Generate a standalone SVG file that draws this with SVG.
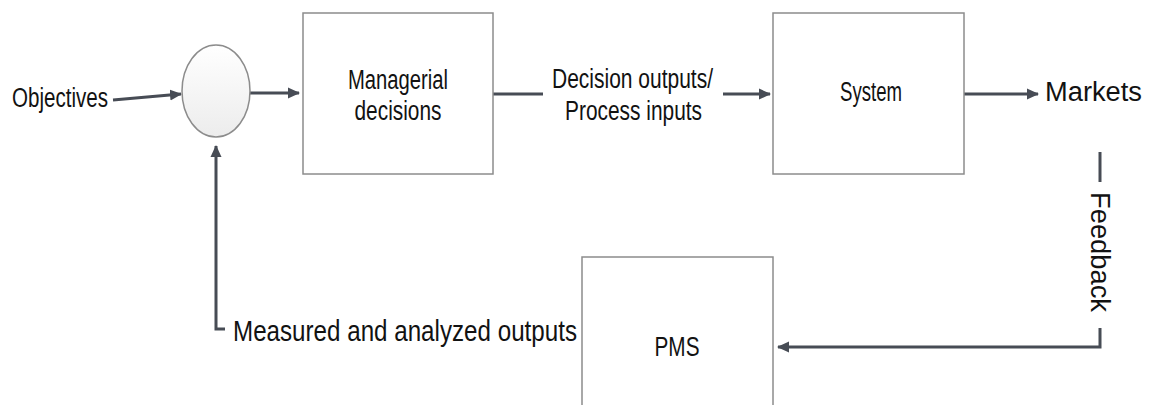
<svg xmlns="http://www.w3.org/2000/svg" width="1151" height="405" viewBox="0 0 1151 405">
  <defs>
    <marker id="arrow" viewBox="0 0 12 12" refX="11" refY="6" markerWidth="12" markerHeight="12" markerUnits="userSpaceOnUse" orient="auto">
      <path d="M0,0.5 L12,6 L0,11.5 Z" fill="#474c55"/>
    </marker>
    <linearGradient id="circleFill" x1="0" y1="0" x2="0" y2="1">
      <stop offset="0" stop-color="#ffffff"/>
      <stop offset="1" stop-color="#ececec"/>
    </linearGradient>
  </defs>
  <style>
    .box { fill: #ffffff; stroke: #8c8c8c; stroke-width: 1.5; }
    .link { fill: none; stroke: #474c55; stroke-width: 3; }
    .label { font-family: "Liberation Sans", Arial, sans-serif; font-size: 27px; fill: #121212; }
    .mid { text-anchor: middle; }
  </style>
  <rect width="1151" height="405" fill="#ffffff"/>

  <!-- connectors -->
  <g id="connectors">
    <line class="link" x1="113" y1="100" x2="181" y2="94" marker-end="url(#arrow)"/>
    <line class="link" x1="250" y1="93" x2="299" y2="93" marker-end="url(#arrow)"/>
    <line class="link" x1="493" y1="94" x2="543" y2="94"/>
    <line class="link" x1="723" y1="94" x2="770" y2="94" marker-end="url(#arrow)"/>
    <line class="link" x1="964" y1="94" x2="1038" y2="94" marker-end="url(#arrow)"/>
    <line class="link" x1="1100" y1="152" x2="1100" y2="182"/>
    <polyline class="link" points="1100,328 1100,347 778,347" marker-end="url(#arrow)"/>
    <polyline class="link" points="225,329 216,329 216,146" marker-end="url(#arrow)"/>
    <text class="label mid" transform="translate(1091,252) rotate(90)" textLength="120" lengthAdjust="spacingAndGlyphs">Feedback</text>
    <text class="label" x="233" y="341" style="font-size:29px" textLength="344" lengthAdjust="spacingAndGlyphs">Measured and analyzed outputs</text>
    <text class="label" x="552" y="88" textLength="161" lengthAdjust="spacingAndGlyphs">Decision outputs/</text>
    <text class="label" x="565" y="120" textLength="137" lengthAdjust="spacingAndGlyphs">Process inputs</text>
  </g>

  <g id="objectives">
    <text class="label" x="12" y="107" textLength="96" lengthAdjust="spacingAndGlyphs">Objectives</text>
  </g>

  <g id="comparator">
    <ellipse cx="216" cy="91" rx="34" ry="46" fill="url(#circleFill)" stroke="#8c8c8c" stroke-width="1.5"/>
  </g>

  <g id="managerial-decisions">
    <rect class="box" x="303" y="13" width="190" height="161"/>
    <text class="label mid" x="398" y="89" textLength="100" lengthAdjust="spacingAndGlyphs">Managerial</text>
    <text class="label mid" x="398" y="120" textLength="87" lengthAdjust="spacingAndGlyphs">decisions</text>
  </g>

  <g id="system">
    <rect class="box" x="773" y="13" width="191" height="161"/>
    <text class="label mid" x="871" y="101" textLength="62" lengthAdjust="spacingAndGlyphs">System</text>
  </g>

  <g id="markets">
    <text class="label" x="1045" y="101" textLength="97" lengthAdjust="spacingAndGlyphs">Markets</text>
  </g>

  <g id="pms">
    <rect class="box" x="582" y="257" width="191" height="160"/>
    <text class="label mid" x="677" y="356" textLength="45" lengthAdjust="spacingAndGlyphs">PMS</text>
  </g>
</svg>
